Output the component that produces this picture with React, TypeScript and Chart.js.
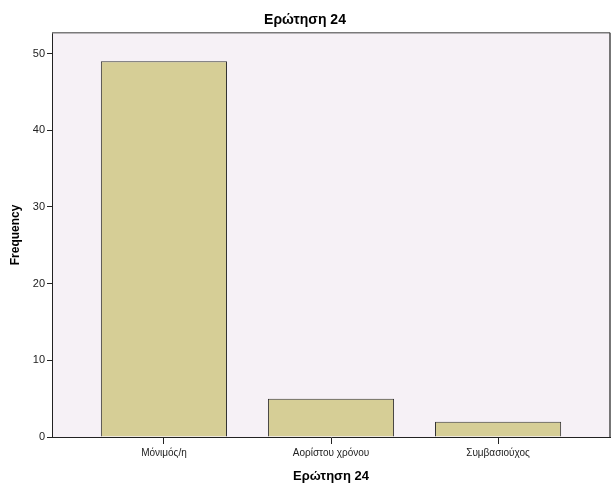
import React, { useEffect, useRef } from "react";
import { Chart, registerables } from "chart.js";

Chart.register(...registerables);

// Frequency table for question 24
const categories: string[] = ["Μόνιμός/η", "Αορίστου χρόνου", "Συμβασιούχος"];
const frequencies: number[] = [49, 5, 2];
const yTicks: number[] = [0, 10, 20, 30, 40, 50];
const chartTitle = "Ερώτηση 24";
const xTitle = "Ερώτηση 24";
const yTitle = "Frequency";

const FONT = "Arial, 'Liberation Sans', sans-serif";

// Fills the plot area and draws its top and right frame lines
const plotFrame = {
  id: "plotFrame",
  beforeDraw(chart: any) {
    const { ctx, chartArea } = chart;
    const { left, top, right, bottom } = chartArea;
    ctx.save();
    ctx.fillStyle = "#F6F1F6";
    ctx.fillRect(left, top, right - left, bottom - top);
    ctx.restore();
  },
  afterDraw(chart: any) {
    const { ctx, chartArea } = chart;
    const { left, top, right, bottom } = chartArea;
    ctx.save();
    ctx.strokeStyle = "#7a7a7a";
    ctx.lineWidth = 1.5;
    ctx.beginPath();
    ctx.moveTo(left, top);
    ctx.lineTo(right, top);
    ctx.stroke();
    ctx.strokeStyle = "#4a4a4a";
    ctx.lineWidth = 1.5;
    ctx.beginPath();
    ctx.moveTo(right, top);
    ctx.lineTo(right, bottom);
    ctx.stroke();
    ctx.restore();
  },
};

export default function App() {
  const canvasRef = useRef<HTMLCanvasElement | null>(null);

  useEffect(() => {
    if (!canvasRef.current) return;
    const points = frequencies.map((v, i) => ({ x: i, y: v }));
    const chart = new Chart(canvasRef.current, {
      type: "bar",
      data: {
        datasets: [
          {
            data: points as any,
            backgroundColor: "#D6CE96",
            borderColor: "#333",
            borderWidth: 1,
            categoryPercentage: 0.755,
            barPercentage: 1,
          },
        ],
      },
      plugins: [plotFrame],
      options: {
        responsive: false,
        animation: false,
        devicePixelRatio: 1,
        layout: { padding: { left: 0, right: 4, top: 0, bottom: 0 } },
        plugins: {
          legend: { display: false },
          tooltip: { enabled: false },
          title: {
            display: true,
            text: chartTitle,
            color: "#000",
            font: { family: FONT, size: 14, weight: "bold" },
            padding: { top: 12, bottom: 4 },
          },
        },
        scales: {
          x: {
            type: "linear",
            offset: false,
            min: -0.67,
            max: 2.67,
            afterBuildTicks: (scale: any) => {
              scale.ticks = categories.map((_, i) => ({ value: i }));
            },
            afterFit: (scale: any) => {
              scale.height = 52;
            },
            ticks: {
              autoSkip: false,
              maxRotation: 0,
              color: "#222",
              padding: 3,
              font: { family: FONT, size: 10 },
              callback: (v: any) => categories[v as number] ?? "",
            },
            grid: {
              offset: false,
              drawOnChartArea: false,
              drawTicks: true,
              tickLength: 7,
              color: "#222",
            },
            border: { color: "#222", width: 1 },
            title: {
              display: true,
              text: xTitle,
              color: "#000",
              font: { family: FONT, size: 13, weight: "bold" },
              padding: { top: 0, bottom: 5 },
            },
          },
          y: {
            type: "linear",
            min: 0,
            max: 52.7,
            afterBuildTicks: (scale: any) => {
              scale.ticks = yTicks.map((v) => ({ value: v }));
            },
            afterFit: (scale: any) => {
              scale.width = 52;
            },
            ticks: {
              color: "#222",
              padding: 2,
              font: { family: FONT, size: 11 },
            },
            grid: {
              drawOnChartArea: false,
              drawTicks: true,
              tickLength: 5,
              color: "#222",
            },
            border: { color: "#222", width: 1 },
            title: {
              display: true,
              text: yTitle,
              color: "#000",
              font: { family: FONT, size: 12, weight: "bold" },
              padding: { top: 8, bottom: 0 },
            },
          },
        },
      },
    });
    return () => chart.destroy();
  }, []);

  return (
    <div style={{ position: "fixed", left: 0, top: 0, width: 614, height: 489, background: "#fff" }}>
      <canvas ref={canvasRef} width={614} height={489} style={{ display: "block" }} />
    </div>
  );
}
